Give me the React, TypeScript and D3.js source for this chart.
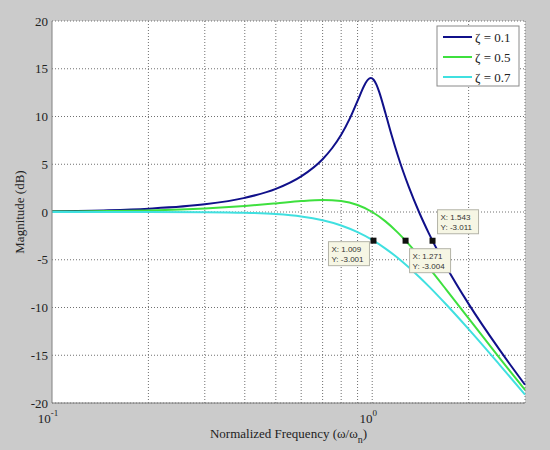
import * as d3 from "d3";

// frequencies (w / wn) and magnitudes (dB)
const freqLow = [0.1, 0.15, 0.2, 0.3, 0.4, 0.5, 0.6, 0.7, 0.75, 0.8, 0.85, 0.9, 0.95, 0.97, 0.99, 1.01, 1.03, 1.05, 1.1, 1.15, 1.2, 1.25, 1.3, 1.4, 1.5, 1.7, 2.0, 2.5, 3.0];
const magLow = [0.09, 0.19, 0.35, 0.8, 1.48, 2.42, 3.73, 5.53, 6.7, 8.09, 9.75, 11.64, 13.41, 13.86, 14.02, 13.85, 13.36, 12.63, 10.34, 8.04, 6.0, 4.21, 2.65, 0.0, -2.18, -5.67, -9.62, -14.44, -18.09];

const freqMid = [0.1, 0.15, 0.2, 0.3, 0.4, 0.5, 0.6, 0.7, 0.8, 0.9, 1.0, 1.1, 1.2, 1.3, 1.4, 1.5, 1.7, 2.0, 2.5, 3.0];
const magMid = [0.04, 0.1, 0.17, 0.37, 0.63, 0.9, 1.14, 1.25, 1.14, 0.73, 0.0, -0.98, -2.13, -3.36, -4.6, -5.81, -8.1, -11.14, -15.29, -18.63];
const magHigh = [0.0, 0.0, 0.0, -0.02, -0.08, -0.22, -0.47, -0.87, -1.41, -2.11, -2.92, -3.83, -4.79, -5.79, -6.78, -7.76, -9.66, -12.26, -16.0, -19.12];

const seriesNames = ["0.1", "0.5", "0.7"];
const seriesColors = ["#10108a", "#3ee03e", "#40e0e0"];

const tipX = [1.009, 1.271, 1.543];
const tipY = [-3.001, -3.004, -3.011];

const yTicks = [20, 15, 10, 5, 0, -5, -10, -15, -20];
const xMinor = [0.2, 0.3, 0.4, 0.5, 0.6, 0.7, 0.8, 0.9, 2, 3];

const W = 550;
const H = 450;
const m = { left: 52, right: 25, top: 21, bottom: 47 };

export default function App() {
  const x = d3.scaleLog().domain([0.1, 3]).range([m.left, W - m.right]);
  const y = d3.scaleLinear().domain([-20, 20]).range([H - m.bottom, m.top]);
  const line = d3
    .line<[number, number]>()
    .x((d) => x(d[0]))
    .y((d) => y(d[1]))
    .curve(d3.curveMonotoneX);

  const series = [
    d3.zip(freqLow, magLow),
    d3.zip(freqMid, magMid),
    d3.zip(freqMid, magHigh),
  ] as [number, number][][];

  const serif = "'Liberation Serif', 'Times New Roman', serif";
  const sans = "'Liberation Sans', Arial, sans-serif";
  const grid = { stroke: "#707070", strokeWidth: 1, strokeDasharray: "1,2" };

  // data tip boxes: offset of box relative to the marker
  const tipBoxes = [
    { dx: -45, dy: 1 },
    { dx: 4, dy: 8 },
    { dx: 5, dy: -31 },
  ];

  return (
    <svg
      width={W}
      height={H}
      style={{ position: "absolute", left: 0, top: 0, display: "block" }}
    >
      <rect width={W} height={H} fill="#cbcbcb" />
      <rect
        x={m.left}
        y={m.top}
        width={W - m.left - m.right}
        height={H - m.top - m.bottom}
        fill="#ffffff"
      />

      {/* grid */}
      {yTicks.map((t) => (
        <line key={"gy" + t} x1={m.left} x2={W - m.right} y1={y(t)} y2={y(t)} {...grid} />
      ))}
      {[...xMinor, 1].map((t) => (
        <line key={"gx" + t} x1={x(t)} x2={x(t)} y1={m.top} y2={H - m.bottom} {...grid} />
      ))}

      {/* curves */}
      {series.map((s, i) => (
        <path
          key={"s" + i}
          d={line(s) ?? ""}
          fill="none"
          stroke={seriesColors[i]}
          strokeWidth={2}
        />
      ))}

      {/* axes */}
      <line x1={m.left} x2={m.left} y1={m.top} y2={H - m.bottom} stroke="#808080" />
      <line x1={m.left} x2={W - m.right} y1={H - m.bottom} y2={H - m.bottom} stroke="#808080" />

      {yTicks.map((t) => (
        <text
          key={"ty" + t}
          x={m.left - 4}
          y={y(t)}
          dy="0.35em"
          textAnchor="end"
          fontFamily={serif}
          fontSize={13}
          fill="#222"
        >
          {t}
        </text>
      ))}
      {[
        { v: 0.1, e: "-1" },
        { v: 1, e: "0" },
      ].map((t) => (
        <text
          key={"tx" + t.v}
          x={x(t.v) - 4}
          y={H - m.bottom + 20}
          textAnchor="middle"
          fontFamily={serif}
          fontSize={13}
          fill="#222"
        >
          10
          <tspan fontSize={9} dy={-7}>
            {t.e}
          </tspan>
        </text>
      ))}

      <text
        x={(m.left + W - m.right) / 2}
        y={438}
        textAnchor="middle"
        fontFamily={serif}
        fontSize={13}
        fill="#222"
      >
        Normalized Frequency (ω/ω
        <tspan fontSize={10} dy={5}>n</tspan>
        <tspan dy={-5}>)</tspan>
      </text>
      <text
        transform={`translate(24,${y(0)}) rotate(-90)`}
        textAnchor="middle"
        fontFamily={serif}
        fontSize={13}
        fill="#222"
      >
        Magnitude (dB)
      </text>

      {/* legend */}
      <rect x={437} y={26} width={82} height={60} fill="#ffffff" stroke="#8a8a8a" />
      {seriesNames.map((n, i) => (
        <g key={"lg" + i}>
          <line
            x1={443}
            x2={472}
            y1={37 + i * 20}
            y2={37 + i * 20}
            stroke={seriesColors[i]}
            strokeWidth={2}
          />
          <text
            x={475}
            y={37 + i * 20}
            dy="0.35em"
            fontFamily={serif}
            fontSize={13}
            fill="#222"
          >
            ζ = {n}
          </text>
        </g>
      ))}

      {/* data tips */}
      {tipX.map((tx, i) => {
        const px = x(tx);
        const py = y(tipY[i]);
        const b = tipBoxes[i];
        return (
          <g key={"tip" + i}>
            <rect
              x={px + b.dx}
              y={py + b.dy}
              width={41}
              height={24}
              fill="#f6f6e4"
              stroke="#b4b4a8"
            />
            <text x={px + b.dx + 3} y={py + b.dy + 10} fontFamily={sans} fontSize={8} fill="#333">
              X: {tx.toFixed(3)}
            </text>
            <text x={px + b.dx + 3} y={py + b.dy + 20} fontFamily={sans} fontSize={8} fill="#333">
              Y: {tipY[i].toFixed(3)}
            </text>
            <rect x={px - 3} y={py - 3} width={6} height={6} fill="#111" />
          </g>
        );
      })}
    </svg>
  );
}
